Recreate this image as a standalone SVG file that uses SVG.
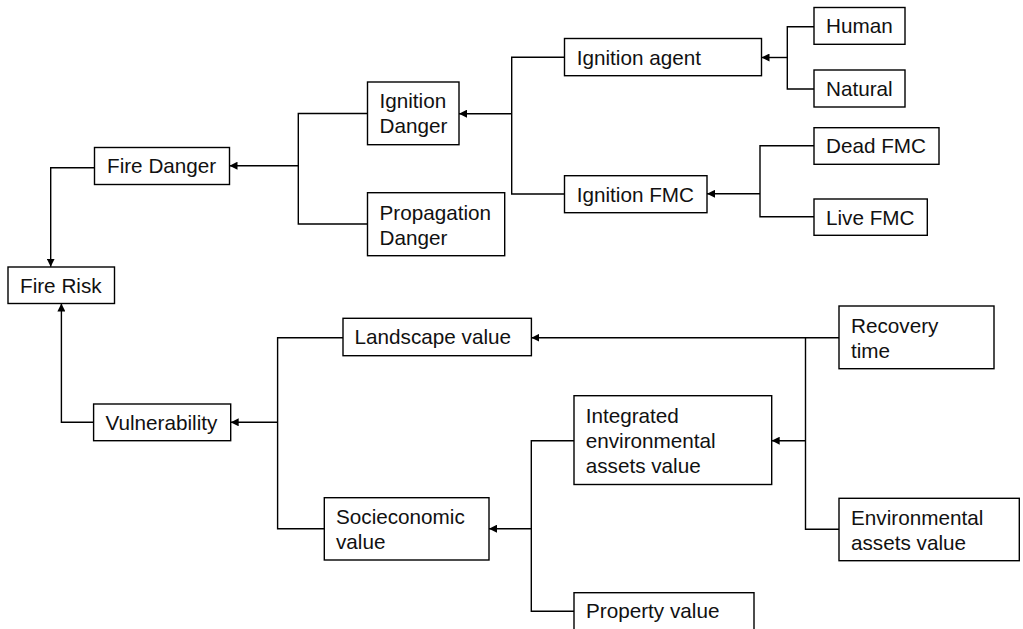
<svg xmlns="http://www.w3.org/2000/svg" width="1023" height="629" viewBox="0 0 1023 629">
<defs>
<style>
.box{fill:#fff;stroke:#000;stroke-width:1.4}
.t{font-family:"Liberation Sans",Arial,sans-serif;font-size:20.7px;fill:#111}
.c{fill:none;stroke:#000;stroke-width:1.4}
</style>
<marker id="arr" viewBox="0 0 8 8" refX="8" refY="4" markerWidth="8" markerHeight="8" markerUnits="userSpaceOnUse" orient="auto">
<path d="M0,0 L8,4 L0,8 z" fill="#000"/>
</marker>
</defs>
<rect width="1023" height="629" fill="#fff"/>
<g id="connectors">
<path class="c" d="M367.5,113.5 H298.3 V224 H367.5"/>
<path class="c" d="M298.3,165.7 H229.5" marker-end="url(#arr)"/>
<path class="c" d="M564.5,57.3 H511.7 V194 H564.5"/>
<path class="c" d="M511.7,113.7 H459" marker-end="url(#arr)"/>
<path class="c" d="M814,26.7 H787.3 V89 H814"/>
<path class="c" d="M787.3,57.5 H761.5" marker-end="url(#arr)"/>
<path class="c" d="M814,145.7 H760 V216.7 H814"/>
<path class="c" d="M760,193.8 H707" marker-end="url(#arr)"/>
<path class="c" d="M94.5,167.7 H50.7 V266.7" marker-end="url(#arr)"/>
<path class="c" d="M93.6,422.3 H61.4 V303.5" marker-end="url(#arr)"/>
<path class="c" d="M343,337.7 H277.6 V528.7 H324.3"/>
<path class="c" d="M277.6,422.3 H230.7" marker-end="url(#arr)"/>
<path class="c" d="M839,337.7 H531.4" marker-end="url(#arr)"/>
<path class="c" d="M805.5,337.7 V529.3 H839"/>
<path class="c" d="M805.5,440.7 H771.7" marker-end="url(#arr)"/>
<path class="c" d="M574,440.7 H531.3 V611.3 H574"/>
<path class="c" d="M531.3,528.7 H489" marker-end="url(#arr)"/>
</g>
<g id="fire-danger"><rect class="box" x="94.5" y="147.5" width="135" height="37"/><text class="t" x="107" y="173">Fire Danger</text></g>
<g id="fire-risk"><rect class="box" x="8" y="267" width="106.5" height="36.5"/><text class="t" x="20" y="292.6">Fire Risk</text></g>
<g id="ignition-danger"><rect class="box" x="367.5" y="82" width="91.5" height="62.7"/><text class="t" x="379.5" y="108">Ignition</text><text class="t" x="379.5" y="133">Danger</text></g>
<g id="propagation-danger"><rect class="box" x="367.5" y="192.7" width="137.2" height="63"/><text class="t" x="379.5" y="220">Propagation</text><text class="t" x="379.5" y="245">Danger</text></g>
<g id="ignition-agent"><rect class="box" x="564.5" y="38.5" width="197" height="37.2"/><text class="t" x="576.7" y="64.6">Ignition agent</text></g>
<g id="ignition-fmc"><rect class="box" x="564.5" y="175.7" width="142.5" height="37"/><text class="t" x="576.7" y="201.6">Ignition FMC</text></g>
<g id="human"><rect class="box" x="814" y="7.5" width="91" height="36.8"/><text class="t" x="826" y="33.3">Human</text></g>
<g id="natural"><rect class="box" x="814" y="70" width="91" height="37"/><text class="t" x="826" y="96">Natural</text></g>
<g id="dead-fmc"><rect class="box" x="814" y="127.7" width="125" height="36.6"/><text class="t" x="826" y="153.4">Dead FMC</text></g>
<g id="live-fmc"><rect class="box" x="814" y="199" width="113.3" height="36.3"/><text class="t" x="826" y="224.6">Live FMC</text></g>
<g id="vulnerability"><rect class="box" x="93.6" y="404" width="137.1" height="36.7"/><text class="t" x="105.4" y="429.7">Vulnerability</text></g>
<g id="landscape-value"><rect class="box" x="343" y="318.3" width="188.4" height="37.4"/><text class="t" x="354.6" y="344.4">Landscape value</text></g>
<g id="recovery-time"><rect class="box" x="839" y="306" width="155" height="62.7"/><text class="t" x="851" y="332.7">Recovery</text><text class="t" x="851" y="357.7">time</text></g>
<g id="integrated-environmental-assets-value"><rect class="box" x="574" y="395.7" width="197.7" height="88.8"/><text class="t" x="585.7" y="422.7">Integrated</text><text class="t" x="585.7" y="447.7">environmental</text><text class="t" x="585.7" y="472.7">assets value</text></g>
<g id="socioeconomic-value"><rect class="box" x="324.3" y="497.7" width="164.7" height="62.3"/><text class="t" x="336" y="524">Socieconomic</text><text class="t" x="336" y="549">value</text></g>
<g id="environmental-assets-value"><rect class="box" x="839" y="498.3" width="180.3" height="62.4"/><text class="t" x="851" y="524.7">Environmental</text><text class="t" x="851" y="549.5">assets value</text></g>
<g id="property-value"><rect class="box" x="574" y="592.7" width="180" height="38"/><text class="t" x="586" y="618">Property value</text></g>
</svg>
